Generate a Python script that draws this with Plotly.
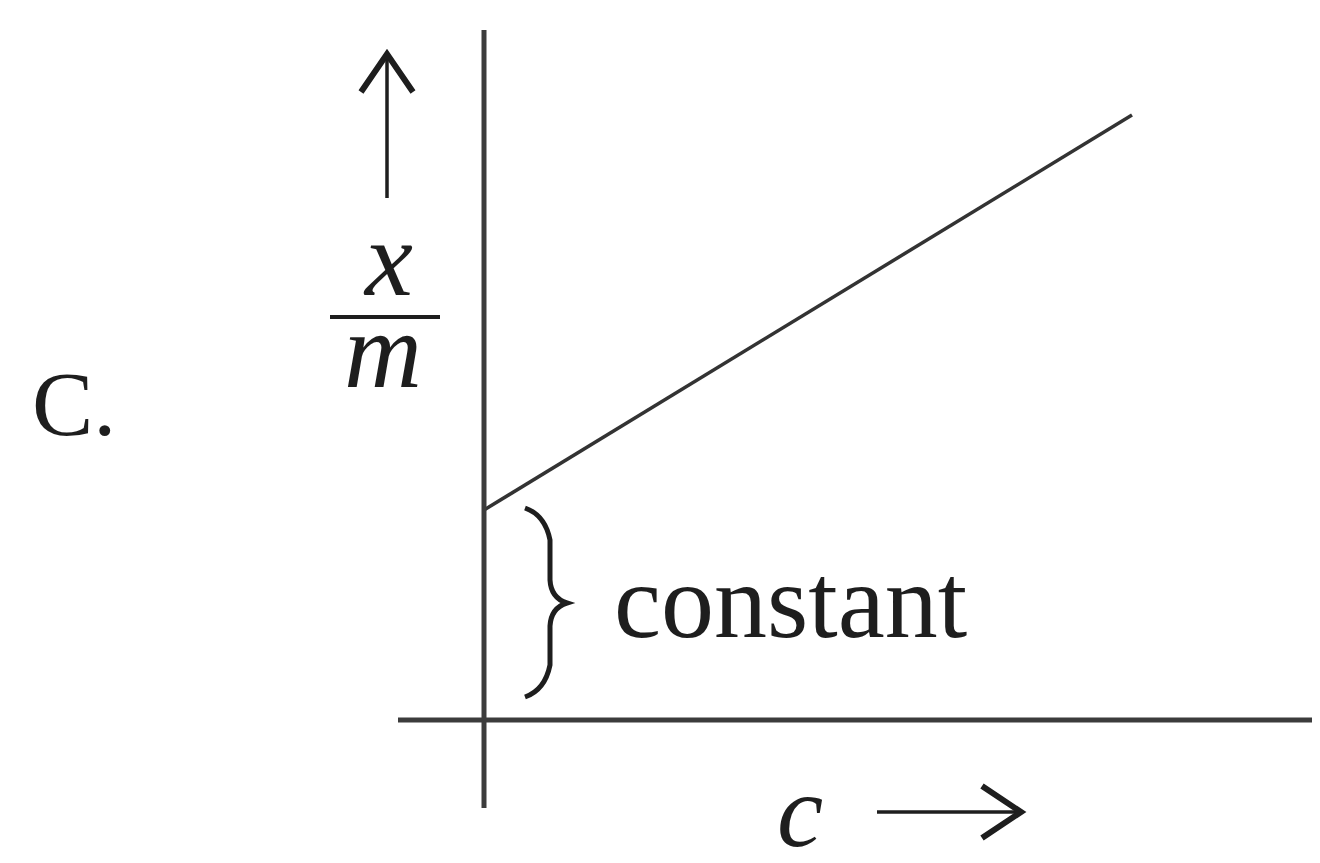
import plotly.graph_objects as go

# straight line of x/m against c (arbitrary units, origin where the axes cross)
c_vals = [0.0, 6.48]
xm_vals = [2.10, 6.05]

intercept_label = "constant"
panel_label = "C."

SERIF = "Liberation Serif"
INK = "#1e1e1e"
AXIS = "#3c3c3c"


def px(x, y):
    # convert picture pixels to data units (100 px per unit, origin at 484, 720)
    return (x - 484) / 100.0, (720 - y) / 100.0


fig = go.Figure()

fig.add_trace(go.Scatter(x=c_vals, y=xm_vals, mode="lines",
                         line=dict(color="#333333", width=3.5),
                         hoverinfo="skip", showlegend=False))

shapes = []

# axes
x0, y0 = px(484, 30)
x1, y1 = px(484, 808)
shapes.append(dict(type="line", x0=x0, y0=y0, x1=x1, y1=y1,
                   line=dict(color=AXIS, width=5)))
x0, y0 = px(398, 720)
x1, y1 = px(1320, 720)
shapes.append(dict(type="line", x0=x0, y0=y0, x1=x1, y1=y1,
                   line=dict(color=AXIS, width=5)))


def path_from(points):
    pts = [px(*p) for p in points]
    d = "M %.3f,%.3f" % pts[0]
    for p in pts[1:]:
        d += " L %.3f,%.3f" % p
    return d


# up arrow beside the y label
shapes.append(dict(type="path", path=path_from([(387, 198), (387, 52)]),
                   line=dict(color=INK, width=3.5)))
shapes.append(dict(type="path", path=path_from([(361, 92), (387, 54), (413, 92)]),
                   line=dict(color=INK, width=6)))

# right arrow beside the x label
shapes.append(dict(type="path", path=path_from([(877, 812), (1022, 812)]),
                   line=dict(color=INK, width=3.5)))
shapes.append(dict(type="path", path=path_from([(982, 786), (1021, 812), (982, 838)]),
                   line=dict(color=INK, width=6)))

# fraction bar
shapes.append(dict(type="path", path=path_from([(330, 317), (440, 317)]),
                   line=dict(color=INK, width=4)))

# curly brace marking the intercept
b = [px(525, 508), px(545, 515), px(550, 540), px(550, 580),
     px(551, 598), px(567, 603),
     px(551, 608), px(550, 626), px(550, 665), px(545, 690), px(525, 697)]
brace = ("M %.3f,%.3f Q %.3f,%.3f %.3f,%.3f L %.3f,%.3f "
         "Q %.3f,%.3f %.3f,%.3f Q %.3f,%.3f %.3f,%.3f "
         "L %.3f,%.3f Q %.3f,%.3f %.3f,%.3f") % (
    b[0] + b[1] + b[2] + b[3] + b[4] + b[5] + b[6] + b[7] + b[8] + b[9] + b[10])
shapes.append(dict(type="path", path=brace, line=dict(color=INK, width=5)))

annotations = []


def label(text, x, y, size, italic=False, box_h=None):
    dx, dy = px(x, y)
    ann = dict(x=dx, y=dy, xref="x", yref="y", text=text,
               showarrow=False, xanchor="center", yanchor="middle",
               font=dict(family=SERIF, size=size, color=INK,
                         style="italic" if italic else "normal"))
    if box_h:
        ann["height"] = box_h
    annotations.append(ann)


label(panel_label, 74, 404, 92)
label("x", 388, 258, 108, italic=True, box_h=80)
label("m", 383, 350, 108, italic=True, box_h=80)
label(intercept_label, 790, 601, 106)
label("c", 800, 810, 104, italic=True, box_h=80)

# the page body adds an 8 px offset, so the plot is 8 px smaller and the
# ranges start 8 px further in
fig.update_layout(
    width=1312, height=855,
    margin=dict(l=0, r=0, t=0, b=0),
    paper_bgcolor="white", plot_bgcolor="white",
    xaxis=dict(range=[-4.76, 8.36], visible=False, fixedrange=True),
    yaxis=dict(range=[-1.43, 7.12], visible=False, fixedrange=True),
    shapes=shapes, annotations=annotations,
    showlegend=False,
)

fig.write_html("out.html")
